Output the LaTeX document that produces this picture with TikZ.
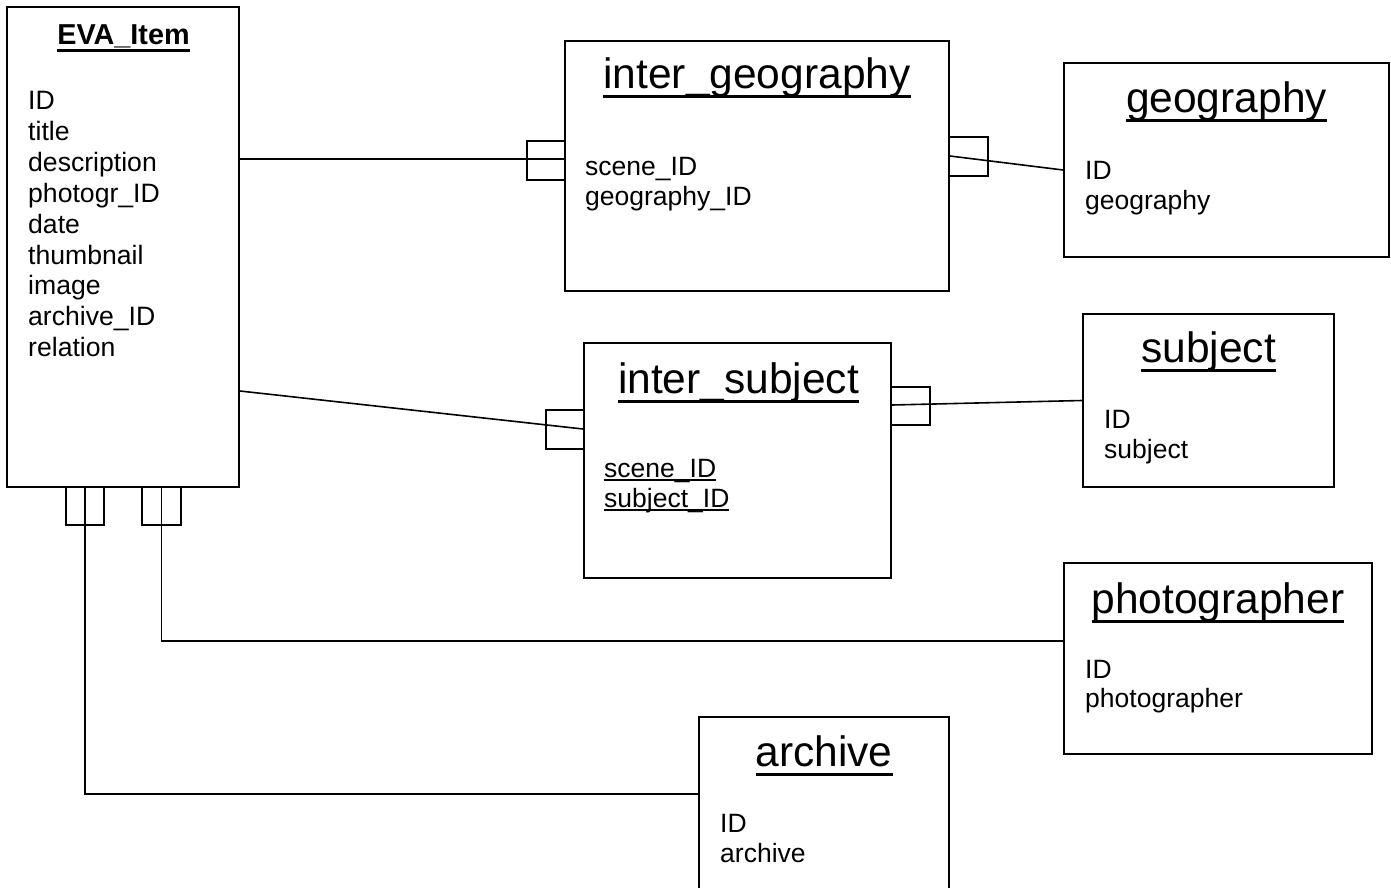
\documentclass[tikz,border=0pt]{standalone}
\usepackage{fontspec}
\setmainfont{Liberation Sans}
\usetikzlibrary{calc}

% text with a rule beneath it: #1 text, #2 top of rule below baseline, #3 rule thickness
\newcommand\ulrule[3]{\setbox0\hbox{#1}\rlap{\usebox0}\rule[-#2]{\wd0}{#3}}
\newcommand\ttl[1]{\ulrule{#1}{9.5pt}{3pt}}
\newcommand\attr[1]{\ulrule{#1}{4.2pt}{2pt}}

\begin{document}
\begin{tikzpicture}[x=1pt,y=-1pt,
  entity/.style={draw,line width=1.9pt,rectangle,inner sep=0pt},
  keybox/.style={draw,line width=1.8pt,rectangle,inner sep=0pt,minimum width=38pt,minimum height=38pt},
  conn/.style={line width=1.6pt},
  ttlfont/.style={inner sep=0pt,anchor=base,font=\fontsize{42.5}{48}\selectfont},
  attrfont/.style={inner sep=0pt,anchor=base west,font=\fontsize{26.5}{30}\selectfont},
  evafont/.style={inner sep=0pt,anchor=base west,font=\fontsize{26.6}{30.8}\selectfont},
]
\useasboundingbox (0,0) rectangle (1391,888);
\clip (0,0) rectangle (1391,888);

% entity boxes
\node[entity,minimum width=232pt,minimum height=480pt] (eva)  at (123,247) {};
\node[entity,minimum width=384pt,minimum height=250pt] (igeo) at (757,166) {};
\node[entity,minimum width=325pt,minimum height=194pt] (geo)  at (1226.5,160) {};
\node[entity,minimum width=307pt,minimum height=235pt] (isub) at (737.5,460.5) {};
\node[entity,minimum width=251pt,minimum height=173pt] (sub)  at (1208.5,400.5) {};
\node[entity,minimum width=308pt,minimum height=191pt] (phot) at (1218,658.5) {};
\node[entity,minimum width=250pt,minimum height=188pt] (arch) at (824,811) {};

% EVA_Item
\node[inner sep=0pt,anchor=base,font=\fontsize{28.8}{32}\selectfont\bfseries] (evat) at (123.5,45) {\ulrule{EVA\_Item}{7pt}{3pt}};
\node[evafont] (eva1) at (28,110.0) {ID};
\node[evafont] (eva2) at (28,140.8) {title};
\node[evafont] (eva3) at (28,171.6) {description};
\node[evafont] (eva4) at (28,202.4) {photogr\_ID};
\node[evafont] (eva5) at (28,233.2) {date};
\node[evafont] (eva6) at (28,264.0) {thumbnail};
\node[evafont] (eva7) at (28,294.8) {image};
\node[evafont] (eva8) at (28,325.6) {archive\_ID};
\node[evafont] (eva9) at (28,356.4) {relation};

% inter_geography
\node[ttlfont] (igeot) at (757,89) {\ttl{inter\_geography}};
\node[attrfont] (igeo1) at (585,175) {scene\_ID};
\node[attrfont] (igeo2) at (585,205) {geography\_ID};

% geography
\node[ttlfont] (geot) at (1226.5,113) {\ttl{geography}};
\node[attrfont] (geo1) at (1085,179) {ID};
\node[attrfont] (geo2) at (1085,209) {geography};

% inter_subject
\node[ttlfont] (isubt) at (738.5,393) {\ttl{inter\_subject}};
\node[attrfont] (isub1) at (604,477) {\attr{scene\_ID}};
\node[attrfont] (isub2) at (604,507) {\attr{subject\_ID}};

% subject
\node[ttlfont] (subt) at (1208.5,362) {\ttl{subject}};
\node[attrfont] (sub1) at (1104,428) {ID};
\node[attrfont] (sub2) at (1104,458) {subject};

% photographer
\node[ttlfont] (phott) at (1218,613) {\ttl{photographer}};
\node[attrfont] (phot1) at (1085,678) {ID};
\node[attrfont] (phot2) at (1085,707) {photographer};

% archive
\node[ttlfont] (archt) at (824,766) {\ttl{archive}};
\node[attrfont] (arch1) at (720,832) {ID};
\node[attrfont] (arch2) at (720,862) {archive};

% key markers at the ends of relations
\node[keybox,minimum height=39pt] (k1) at (546,160.5) {};
\node[keybox,minimum width=39pt,minimum height=39pt] (k2) at (968.5,156.5) {};
\node[keybox,minimum height=39pt] (k3) at (565,429.5) {};
\node[keybox,minimum width=39pt] (k4) at (910.5,406) {};
\node[keybox] (k5) at (85,506) {};
\node[keybox,minimum width=39pt] (k6) at (161.5,506) {};

% relations
\draw[conn] ([yshift=88pt]eva.east) -- ([yshift=7pt]igeo.west);
\draw[conn] ([yshift=10pt]igeo.east) -- ([yshift=-10pt]geo.west);
\draw[conn] ([yshift=-144pt]eva.east) -- ([yshift=31.5pt]isub.west);
\draw[conn] ([yshift=55.5pt]isub.east) -- (sub.west);
\draw[conn] (k5.north) |- ([yshift=17pt]arch.west);
\draw[conn] (k6.north) |- ([yshift=17.5pt]phot.west);
\end{tikzpicture}
\end{document}
